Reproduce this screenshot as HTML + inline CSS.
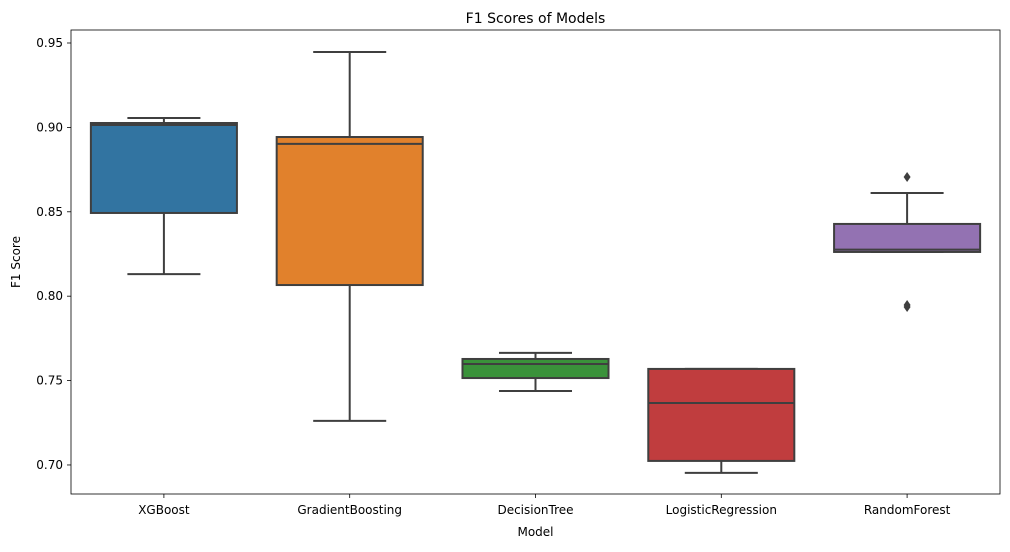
<!DOCTYPE html>
<html><head><meta charset="utf-8"><style>
body{margin:0;background:#fff;font-family:"Liberation Sans","DejaVu Sans",sans-serif;}
</style></head><body>
<svg id="chart" width="1010" height="547" xmlns="http://www.w3.org/2000/svg" font-family="DejaVu Sans, Liberation Sans, sans-serif"></svg>
<script>
const categories=["XGBoost","GradientBoosting","DecisionTree","LogisticRegression","RandomForest"];
const whiskerLow=[0.8131,0.7261,0.7438,0.6953,0.8262];
const q1=[0.8493,0.8066,0.7515,0.7024,0.8262];
const median=[0.9014,0.8902,0.7598,0.7367,0.8276];
const q3=[0.9026,0.8943,0.7628,0.7569,0.8428];
const whiskerHigh=[0.9056,0.9447,0.7664,0.7569,0.8611];
const outliers=[[],[],[],[],[0.8706,0.7948,0.7936]];
const colors=["#3274a1","#e1812c","#3a923a","#c03d3e","#9372b2"];
const yTicks=[0.70,0.75,0.80,0.85,0.90,0.95];
const yTickLabels=["0.70","0.75","0.80","0.85","0.90","0.95"];
const L=71,R=1000,T=30,B=494,yMin=0.6828,yMax=0.9577;
const svg=document.getElementById('chart');const NS="http://www.w3.org/2000/svg";
function y(v){return B-(v-yMin)/(yMax-yMin)*(B-T);}
const step=(R-L)/categories.length;
function x(i){return L+step*(i+0.5);}
function mk(tag,attrs,parent){const e=document.createElementNS(NS,tag);for(const k in attrs)e.setAttribute(k,attrs[k]);(parent||svg).appendChild(e);return e;}
const lc="#3f3f3f";
yTicks.forEach((v,i)=>{
 const g=mk('g',{});
 
 
 mk('line',{x1:L-4,x2:L,y1:y(v),y2:y(v),stroke:'#000','stroke-width':0.8},g);
 const t=mk('text',{x:L-8,y:y(v)+4,'text-anchor':'end','font-size':12},g);t.textContent=yTickLabels[i];
});
categories.forEach((c,i)=>{
 const g=mk('g',{});
 
 
 const cx=x(i),hw=step*0.393;
 mk('line',{x1:cx,x2:cx,y1:y(q3[i]),y2:y(whiskerHigh[i]),stroke:lc,'stroke-width':2},g);
 mk('line',{x1:cx,x2:cx,y1:y(q1[i]),y2:y(whiskerLow[i]),stroke:lc,'stroke-width':2},g);
 mk('line',{x1:cx-hw/2,x2:cx+hw/2,y1:y(whiskerHigh[i]),y2:y(whiskerHigh[i]),stroke:lc,'stroke-width':2},g);
 mk('line',{x1:cx-hw/2,x2:cx+hw/2,y1:y(whiskerLow[i]),y2:y(whiskerLow[i]),stroke:lc,'stroke-width':2},g);
 mk('rect',{x:cx-hw,y:y(q3[i]),width:2*hw,height:Math.max(1,y(q1[i])-y(q3[i])),fill:colors[i],stroke:lc,'stroke-width':2},g);
 mk('line',{x1:cx-hw,x2:cx+hw,y1:y(median[i]),y2:y(median[i]),stroke:lc,'stroke-width':2},g);
 outliers[i].forEach(o=>{const d=mk('path',{d:`M${cx} ${y(o)-5} L${cx+3.5} ${y(o)} L${cx} ${y(o)+5} L${cx-3.5} ${y(o)} Z`,fill:lc},g);
  
  });
 mk('line',{x1:cx,x2:cx,y1:B,y2:B+4,stroke:'#000','stroke-width':0.8},g);
 const t=mk('text',{x:cx,y:B+20,'text-anchor':'middle','font-size':12},g);t.textContent=c;
});
const fr=mk('rect',{x:L,y:T,width:R-L,height:B-T,fill:'none',stroke:'#000','stroke-width':0.8});


const tt=mk('text',{x:(L+R)/2,y:23,'text-anchor':'middle','font-size':14});tt.textContent="F1 Scores of Models";


const xt=mk('text',{x:(L+R)/2,y:536,'text-anchor':'middle','font-size':12});xt.textContent="Model";


const yt=mk('text',{x:20,y:(T+B)/2,'text-anchor':'middle','font-size':12,transform:`rotate(-90 20 ${(T+B)/2})`});yt.textContent="F1 Score";


</script>
</body></html>
